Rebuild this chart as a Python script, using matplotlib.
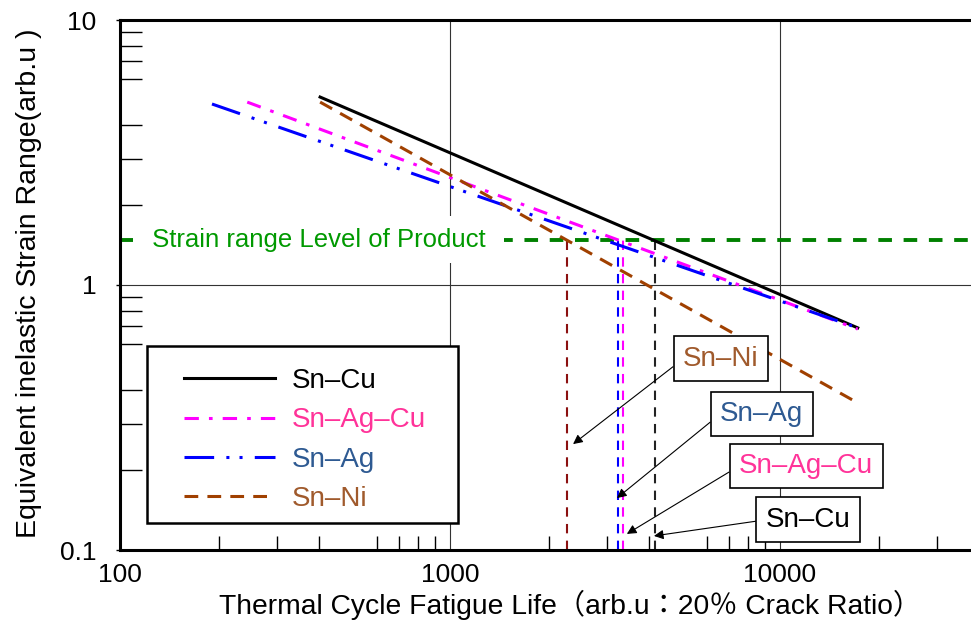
import numpy as np
import matplotlib
matplotlib.use('Agg')
import matplotlib.pyplot as plt
from matplotlib.patches import Rectangle
from matplotlib.ticker import NullFormatter, FixedLocator

plt.rcParams['font.family'] = ['Liberation Sans', 'Noto Sans CJK JP']

# alloy fatigue lines: endpoints
alloys = ['Sn–Cu', 'Sn–Ag–Cu', 'Sn–Ag', 'Sn–Ni']
life = [[404, 17200], [243, 17200], [190, 17200], [404, 16600]]
strain = [[5.12, 0.689], [4.90, 0.682], [4.82, 0.689], [4.90, 0.368]]

# product strain level and life at that level for each alloy
level = 1.48
level_life = [4180, 3340, 3240, 2270]

# callout boxes (centre) and arrow tips
box_pos = [(12160, 0.130), (12000, 0.2075), (8810, 0.326), (6620, 0.526)]
tip_pos = [(4150, 0.113), (3435, 0.115), (3206, 0.157), (2360, 0.251)]

line_colors = ['black', '#FF00FF', '#0000FF', '#A04000']
text_colors = ['black', '#FF3399', '#2E5A92', '#A05A2C']
vline_colors = ['#222222', '#FF00FF', '#0000FF', '#8B1010']
styles = ['-', (0, (4.7, 3.3, 1.2, 3.3)), (0, (9.7, 4, 1, 3.3, 1, 4)), (0, (4.5, 3))]

fig = plt.figure(figsize=(9.71, 6.24), dpi=100)
ax = fig.add_axes([120/971, 74/624, 851/971, 530/624])
ax.set_xscale('log')
ax.set_yscale('log')
ax.set_xlim(100, 10**(2 + 851/330))
ax.set_ylim(0.1, 10)

lines = []
for x, y, c, ls, name in zip(life, strain, line_colors, styles, alloys):
    ln, = ax.plot(x, y, color=c, ls=ls, lw=2.2, label=name, zorder=3)
    lines.append(ln)

# product level
ax.axhline(level, color='#008000', lw=2.8, ls=(0, (3.5, 3)), zorder=2)
ax.text(119, level, ' Strain range Level of Product ', color='#009900', fontsize=18.5,
        va='center', ha='left', zorder=4,
        bbox=dict(boxstyle='square,pad=0.45', fc='white', ec='none'))

for xv, c in zip(level_life, vline_colors):
    ax.plot([xv, xv], [0.1, level], color=c, lw=1.5, ls=(0, (4.5, 3.5)), zorder=2)

for name, bp, tp, tc in zip(alloys, box_pos, tip_pos, text_colors):
    ax.annotate(name, xy=tp, xytext=bp, ha='center', va='center',
                fontsize=20, color=tc, zorder=5,
                bbox=dict(boxstyle='square,pad=0.34', fc='white', ec='black', lw=1.2),
                arrowprops=dict(arrowstyle='-|>', color='black', lw=0.8, relpos=(0, 0.5),
                                shrinkA=0, shrinkB=0, mutation_scale=14))

# axes styling
ax.spines['right'].set_visible(False)
for s in ['left', 'top', 'bottom']:
    ax.spines[s].set_linewidth(2.2)

ax.set_xticks([100, 1000, 10000])
ax.set_xticklabels(['100', '1000', '10000'])
ax.set_yticks([0.1, 1, 10])
ax.set_yticklabels(['0.1', '1', '10'])
ax.xaxis.set_minor_locator(FixedLocator([200, 300, 400, 600, 700, 800, 900,
                                         2000, 3000, 4000, 6000, 7000, 8000, 9000,
                                         20000, 30000]))
ax.yaxis.set_minor_locator(FixedLocator([0.2, 0.3, 0.4, 0.6, 0.7, 0.8, 0.9,
                                         2, 3, 4, 6, 7, 8, 9]))
ax.xaxis.set_minor_formatter(NullFormatter())
ax.yaxis.set_minor_formatter(NullFormatter())
ax.tick_params(axis='x', which='minor', direction='in', length=10, width=1)
ax.tick_params(axis='y', which='minor', direction='in', length=16, width=1)
ax.tick_params(axis='x', which='major', length=0, pad=9, labelsize=19)
ax.tick_params(axis='y', which='major', length=3, width=1, pad=14, labelsize=19)
ax.grid(which='major', color='#333333', lw=0.8)
ax.set_axisbelow(True)

ax.set_xlabel('Thermal Cycle Fatigue Life（arb.u：20％ Crack Ratio）', fontsize=20.3)
ax.xaxis.set_label_coords((570 - 120)/851, -(590 - 550)/530)
ax.set_ylabel('Equivalent inelastic Strain Range(arb.u )', fontsize=20.5)
ax.yaxis.set_label_coords(-(120 - 42)/851, (550 - 283)/530)

# legend: white framed box with entries placed inside
frame = Rectangle(((147 - 120)/851, (550 - 523)/530), (458 - 147)/851, (523 - 346)/530,
                  transform=ax.transAxes, fc='white', ec='black', lw=1.8, zorder=5.5,
                  clip_on=False)
ax.add_patch(frame)
leg = ax.legend(handles=lines, loc='upper left', bbox_to_anchor=((184 - 120)/851, (550 - 368)/530),
                borderaxespad=0, borderpad=0, fontsize=20, handlelength=3.27,
                handletextpad=0.61, labelspacing=0.48, frameon=False)
leg.set_zorder(6)
for t, c in zip(leg.get_texts(), text_colors):
    t.set_color(c)

fig.savefig('out.png', dpi=100)
